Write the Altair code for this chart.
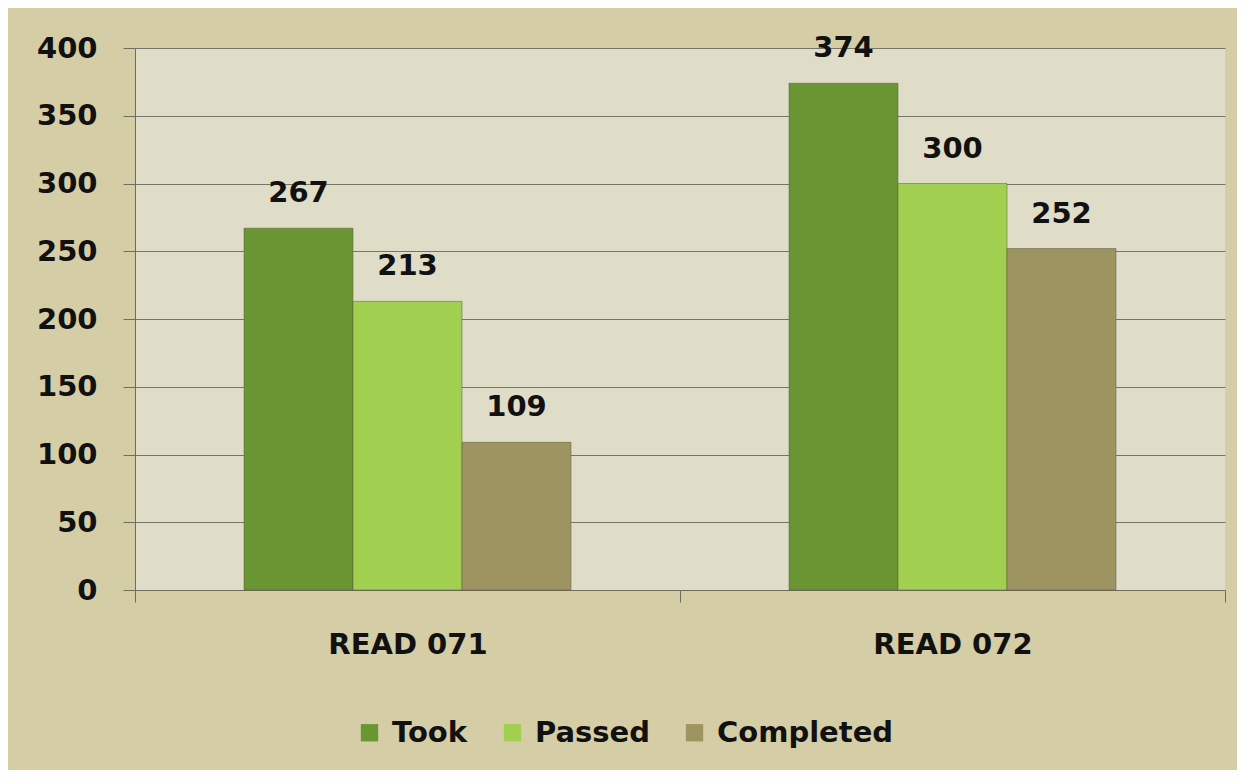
import altair as alt
import pandas as pd

courses = ["READ 071", "READ 072"]
series = ["Took", "Passed", "Completed"]
took = [267, 374]
passed = [213, 300]
completed = [109, 252]

rows = []
for i, c in enumerate(courses):
    for s, vals in zip(series, [took, passed, completed]):
        rows.append({"course": c, "series": s, "value": vals[i]})
df = pd.DataFrame(rows)

FONT = "DejaVu Sans"
colors = ["#6a9533", "#a1cf4f", "#9d9462"]

x = alt.X("course:N", sort=courses, title=None,
          scale=alt.Scale(paddingInner=0, paddingOuter=0),
          axis=alt.Axis(labelAngle=0, labelFont=FONT, labelFontSize=29, labelFontWeight="bold",
                        labelColor="#111111", labelPadding=28, tickSize=12, tickColor="#6f6d60",
                        tickBand="extent", domainColor="#6f6d60", grid=False))
xoff = alt.XOffset("series:N", sort=series, scale=alt.Scale(paddingInner=0, paddingOuter=1))
y = alt.Y("value:Q", title=None,
          scale=alt.Scale(domain=[0, 400], nice=False),
          axis=alt.Axis(values=list(range(0, 401, 50)), labelFont=FONT, labelFontSize=29,
                        labelFontWeight="bold", labelColor="#111111", labelPadding=26,
                        tickSize=12, tickColor="#6f6d60", domainColor="#6f6d60",
                        gridColor="#77756a", gridWidth=1.2))

bars = alt.Chart(df).mark_bar(stroke="#5e5a40", strokeWidth=1, strokeOpacity=0.5).encode(
    x=x, xOffset=xoff, y=y,
    color=alt.Color("series:N", sort=series,
                    scale=alt.Scale(domain=series, range=colors),
                    legend=alt.Legend(title=None, orient="none", direction="horizontal",
                                      legendX=220, legendY=670,
                                      symbolType="square", symbolSize=300,
                                      symbolStrokeWidth=0,
                                      labelFont=FONT, labelFontSize=29, labelFontWeight="bold",
                                      labelColor="#111111", columnPadding=30, labelOffset=8,
                                      labelLimit=400))
)

labels = alt.Chart(df).mark_text(baseline="bottom", dy=-20, font=FONT, fontSize=29,
                                  fontWeight="bold", color="#111111").encode(
    x=x, xOffset=xoff, y=y, text="value:Q"
)

chart = (bars + labels).properties(
    width=1090, height=542,
    autosize=alt.AutoSizeParams(type="none"),
    padding={"left": 127, "top": 40, "right": 12, "bottom": 180},
    background="#d5cda6",
).configure_view(fill="#dfdcc8", stroke=None)

chart.save("out.html", embed_options={"renderer": "svg", "actions": False})
